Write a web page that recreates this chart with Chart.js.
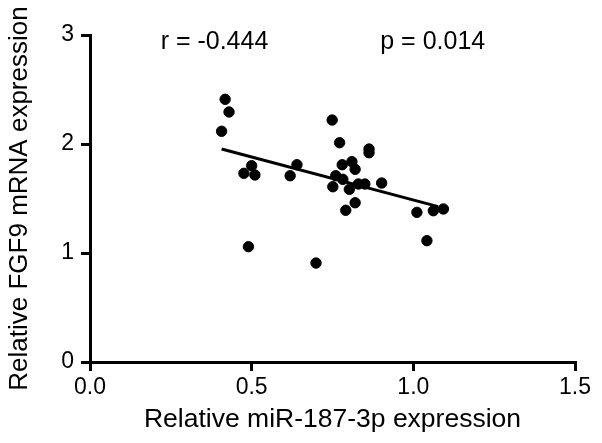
<!DOCTYPE html>
<html>
<head>
<meta charset="utf-8">
<script src="https://cdn.jsdelivr.net/npm/chart.js@4"></script>
<style>
  html, body { margin: 0; padding: 0; background: #fff; }
  #wrap { width: 602px; height: 443px; }
</style>
</head>
<body>
<div id="wrap"><canvas id="chart" width="602" height="443"></canvas></div>
<script>
// miR-187-3p (x) vs FGF9 mRNA (y), one value per sample
var mirValues = [0.418, 0.430, 0.407, 0.476, 0.500, 0.510, 0.490, 0.619, 0.640, 0.749,
                 0.772, 0.751, 0.760, 0.782, 0.780, 0.810, 0.820, 0.802, 0.791, 0.820,
                 0.830, 0.850, 0.863, 0.863, 0.902, 1.011, 1.042, 1.062, 1.093, 0.699];
var fgfValues = [2.410, 2.294, 2.117, 1.731, 1.801, 1.716, 1.058, 1.709, 1.810, 2.220,
                 2.012, 1.608, 1.709, 1.676, 1.810, 1.838, 1.768, 1.584, 1.392, 1.461,
                 1.633, 1.633, 1.954, 1.920, 1.642, 1.373, 1.113, 1.388, 1.404, 0.908];

// regression line ends
var fitX = [0.407, 1.077];
var fitY = [1.954, 1.425];

var xTicks = [0, 0.5, 1.0, 1.5];
var yTicks = [0, 1, 2, 3];

var statLabels = ['r = -0.444', 'p = 0.014'];

var font = "'Liberation Sans', Arial, sans-serif";
Chart.defaults.color = '#000';
Chart.defaults.font.family = font;

// r / p text in the top of the plot
var statsPlugin = {
  id: 'stats',
  afterDatasetsDraw: function (chart) {
    const ctx = chart.ctx;
    const xs = chart.scales.x, ys = chart.scales.y;
    const at = [0.385, 1.06];
    ctx.save();
    ctx.font = '25px ' + font;
    ctx.fillStyle = '#000';
    ctx.textAlign = 'center';
    ctx.textBaseline = 'middle';
    statLabels.forEach(function (t, i) {
      ctx.fillText(t, xs.getPixelForValue(at[i]), ys.getPixelForValue(2.935));
    });
    ctx.restore();
  }
};

new Chart('chart', {
  type: 'scatter',
  plugins: [statsPlugin],
  data: {
    datasets: [
      {
        data: mirValues.map((v, i) => ({x: v, y: fgfValues[i]})),
        backgroundColor: '#000',
        borderColor: '#000',
        pointRadius: 5.2,
        pointHoverRadius: 5.2,
      },
      {
        type: 'line',
        data: fitX.map((v, i) => ({x: v, y: fitY[i]})),
        borderColor: '#000',
        borderWidth: 3,
        pointRadius: 0,
        fill: false,
      },
    ],
  },
  options: {
    responsive: false,
    animation: false,
    events: [],
    layout: { padding: {left: 0, right: 27, top: 35, bottom: 0} },
    plugins: { legend: {display: false}, tooltip: {enabled: false} },
    scales: {
      x: {
        type: 'linear',
        min: 0,
        max: 1.5,
        afterFit: (s) => { s.height = 81; },
        afterBuildTicks: (s) => { s.ticks = xTicks.map(v => ({value: v})); },
        ticks: {
          padding: 3,
          font: {size: 23},
          callback: (v) => v.toFixed(1),
        },
        grid: { drawOnChartArea: false, tickLength: 9, lineWidth: 3, color: '#000' },
        border: { color: '#000', width: 3 },
        title: {
          display: true,
          text: 'Relative miR-187-3p expression',
          font: {size: 26.5},
          padding: {top: 0, bottom: 7},
        },
      },
      y: {
        min: 0,
        max: 3,
        afterFit: (s) => { s.width = 90; },
        afterBuildTicks: (s) => { s.ticks = yTicks.map(v => ({value: v})); },
        ticks: {
          padding: 7,
          font: {size: 23},
          callback: (v) => v.toString(),
        },
        grid: { drawOnChartArea: false, tickLength: 9, lineWidth: 3, color: '#000' },
        border: { color: '#000', width: 3 },
        title: {
          display: true,
          text: 'Relative FGF9 mRNA expression',
          font: {size: 26},
          padding: {top: 4, bottom: 0},
        },
      },
    },
  },
});
</script>
</body>
</html>
